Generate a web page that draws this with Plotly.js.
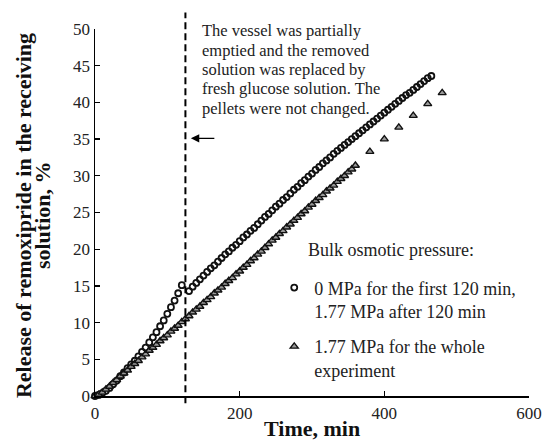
<!DOCTYPE html>
<html>
<head>
<meta charset="utf-8">
<script src="https://cdn.plot.ly/plotly-3.0.1.min.js"></script>
<style>
  html, body { margin: 0; padding: 0; background: #fff; }
  #chart { width: 543px; height: 444px; }
</style>
</head>
<body>
<div id="chart"></div>
<script>
// Release of remoxipride (%) vs time (min)

// 0 MPa for the first 120 min, then 1.77 MPa (vessel partially emptied at 125 min)
const timeA1 = [0, 5, 10, 15, 20, 25, 30, 35, 40, 45, 50, 55, 60, 65, 70, 75, 80, 85, 90, 95, 100, 105, 110, 115, 120];
const releaseA1 = [0, 0.15, 0.4, 0.7, 1.1, 1.6, 2.1, 2.7, 3.2, 3.8, 4.3, 4.8, 5.4, 6.0, 6.6, 7.3, 8.0, 8.7, 9.5, 10.3, 11.2, 12.1, 13.0, 14.0, 15.1];
const timeA2 = [130, 135, 140, 145, 150, 155, 160, 165, 170, 175, 180, 185, 190, 195, 200, 205, 210, 215, 220, 225,
  230, 235, 240, 245, 250, 255, 260, 265, 270, 275, 280, 285, 290, 295, 300, 305, 310, 315, 320, 325,
  330, 335, 340, 345, 350, 355, 360, 365, 370, 375, 380, 385, 390, 395, 400, 405, 410, 415, 420, 425,
  430, 435, 440, 445, 450, 455, 460, 465];
const releaseA2 = [14.3, 14.9, 15.4, 15.9, 16.4, 16.9, 17.4, 17.8, 18.3, 18.8, 19.3, 19.7, 20.2, 20.6, 21.1, 21.6, 22.0, 22.5, 22.9, 23.4,
  23.9, 24.4, 24.8, 25.3, 25.8, 26.2, 26.7, 27.1, 27.6, 28.1, 28.5, 29.0, 29.4, 29.9, 30.3, 30.8, 31.2, 31.7, 32.1, 32.5,
  33.0, 33.4, 33.8, 34.2, 34.6, 35.0, 35.4, 35.8, 36.2, 36.6, 37.0, 37.4, 37.8, 38.2, 38.6, 39.0, 39.4, 39.8, 40.2, 40.6,
  41.0, 41.3, 41.7, 42.1, 42.5, 42.9, 43.3, 43.6];

// 1.77 MPa for the whole experiment
const timeB = [0, 5, 10, 15, 20, 25, 30, 35, 40, 45, 50, 55, 60, 65, 70, 75, 80, 85, 90, 95,
  100, 105, 110, 115, 120, 125, 130, 135, 140, 145, 150, 155, 160, 165, 170, 175, 180, 185, 190, 195,
  200, 205, 210, 215, 220, 225, 230, 235, 240, 245, 250, 255, 260, 265, 270, 275, 280, 285, 290, 295,
  300, 305, 310, 315, 320, 325, 330, 335, 340, 345, 350, 355, 360,
  380, 400, 420, 440, 460, 480];
const releaseB = [0, 0.2, 0.5, 0.9, 1.3, 1.8, 2.2, 2.7, 3.1, 3.5, 4.0, 4.4, 4.8, 5.3, 5.7, 6.2, 6.6, 7.0, 7.5, 7.9,
  8.3, 8.8, 9.2, 9.6, 10.1, 10.5, 10.9, 11.4, 11.8, 12.2, 12.7, 13.1, 13.5, 14.0, 14.4, 14.8, 15.3, 15.7, 16.1, 16.6,
  17.0, 17.5, 17.9, 18.4, 18.8, 19.3, 19.7, 20.2, 20.7, 21.2, 21.6, 22.1, 22.5, 23.0, 23.4, 23.9, 24.3, 24.8, 25.2, 25.7,
  26.1, 26.6, 27.0, 27.4, 27.9, 28.3, 28.7, 29.2, 29.6, 30.0, 30.5, 30.9, 31.4,
  33.3, 35.0, 36.6, 38.2, 39.8, 41.3];

const xTicks = [0, 200, 400, 600];
const yTicks = [0, 5, 10, 15, 20, 25, 30, 35, 40, 45, 50];
const changeTime = 125;

const labelA = '0 MPa for the first 120 min,<br>1.77 MPa after 120 min';
const labelB = '1.77 MPa for the whole<br>experiment';
const legendHeading = 'Bulk osmotic pressure:';
const noteLines = [
  'The vessel was partially',
  'emptied and the removed',
  'solution was replaced by',
  'fresh glucose solution. The',
  'pellets were not changed.'
];
const yTitleLines = ['Release of remoxipride in the receiving', 'solution, %'];
const xTitle = 'Time, min';

const serif = '"Liberation Serif", "Times New Roman", serif';

const circleMarker = { symbol: 'circle-open', size: 6, color: '#111', line: { width: 1.8, color: '#111' } };
const triangleMarker = { symbol: 'triangle-up', size: 7, color: '#999', line: { width: 1.4, color: '#111' } };

const traces = [
  { x: timeA1, y: releaseA1, mode: 'markers', type: 'scatter', name: labelA,
    legendgroup: 'a', marker: circleMarker, cliponaxis: false },
  { x: timeA2, y: releaseA2, mode: 'markers', type: 'scatter', name: labelA,
    legendgroup: 'a', showlegend: false, marker: circleMarker, cliponaxis: false },
  { x: timeB, y: releaseB, mode: 'markers', type: 'scatter', name: labelB,
    legendgroup: 'b', marker: triangleMarker, cliponaxis: false }
];

const axisCommon = {
  showgrid: false, zeroline: false, showline: true, linecolor: '#000', linewidth: 1.5,
  ticks: 'inside', ticklen: 5, tickwidth: 1.3, tickcolor: '#000',
  tickfont: { family: serif, size: 17, color: '#222' }
};

// the note beside the dashed line, one line per annotation for tight line spacing
const noteTop = 30.7, noteStep = 19.4, plotTop = 29, plotH = 367;
const noteAnnotations = noteLines.map((line, i) => ({
  xref: 'x', yref: 'paper', x: 145.5,
  y: 1 - (noteTop + i * noteStep - plotTop) / plotH,
  xanchor: 'left', yanchor: 'middle', align: 'left', showarrow: false,
  text: line, font: { family: serif, size: 16.5, color: '#222' }
}));

// two-line rotated y title
const yTitleX = [-0.1659, -0.1221];
const yTitleAnnotations = yTitleLines.map((line, i) => ({
  xref: 'paper', yref: 'paper', x: yTitleX[i], y: 0.493,
  xanchor: 'center', yanchor: 'middle', textangle: -90, showarrow: false,
  text: '<b>' + line + '</b>', font: { family: serif, size: 22, color: '#111' }
}));

const layout = {
  width: 543, height: 444,
  margin: { l: 95, r: 14, t: 29, b: 48 },
  paper_bgcolor: '#fff', plot_bgcolor: '#fff',
  font: { family: serif, color: '#111' },
  xaxis: Object.assign({}, axisCommon, {
    range: [0, 600], tickvals: xTicks, ticklabelstandoff: 1
  }),
  yaxis: Object.assign({}, axisCommon, {
    range: [0, 50], tickvals: yTicks
  }),
  showlegend: true,
  legend: {
    x: 0.413, xanchor: 'left', y: 0.345, yanchor: 'top',
    bgcolor: 'rgba(0,0,0,0)', borderwidth: 0,
    font: { family: serif, size: 18, color: '#222' },
    valign: 'top', tracegroupgap: 9, itemwidth: 30
  },
  shapes: [
    { type: 'line', xref: 'x', yref: 'paper', x0: changeTime, x1: changeTime, y0: -0.02, y1: 1.045,
      line: { color: '#000', width: 2, dash: '7px,4px' } }
  ],
  annotations: noteAnnotations.concat(yTitleAnnotations, [
    { xref: 'paper', yref: 'paper', x: 0.5, y: -0.0872, xanchor: 'center', yanchor: 'middle',
      showarrow: false, text: '<b>' + xTitle + '</b>', font: { family: serif, size: 22, color: '#111' } },
    { xref: 'x', yref: 'y', x: 132.5, y: 35.1, ax: 25, ay: 0, text: '', showarrow: true,
      arrowhead: 2, arrowsize: 1.2, arrowwidth: 1.4, arrowcolor: '#000' },
    { xref: 'paper', yref: 'paper', x: 0.487, y: 0.398, xanchor: 'left', yanchor: 'middle',
      showarrow: false, text: legendHeading, font: { family: serif, size: 18, color: '#222' } }
  ])
};

Plotly.newPlot('chart', traces, layout, { displayModeBar: false, staticPlot: true });
</script>
</body>
</html>
